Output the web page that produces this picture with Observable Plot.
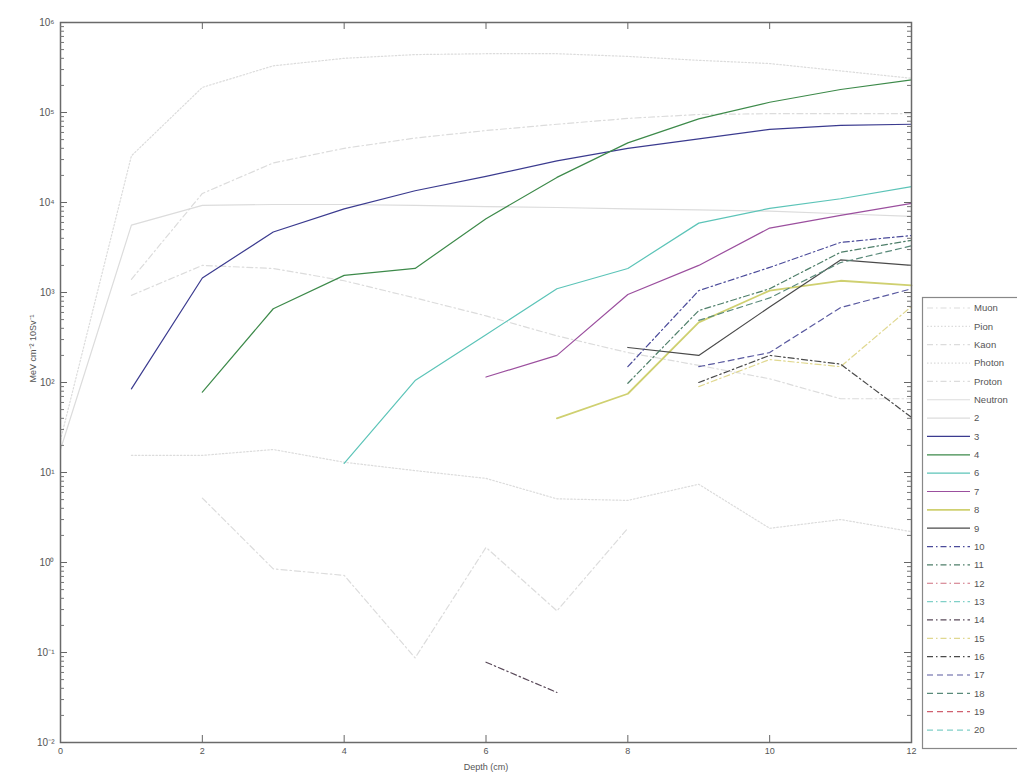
<!DOCTYPE html>
<html>
<head>
<meta charset="utf-8">
<script src="https://cdn.jsdelivr.net/npm/d3@7"></script>
<script src="https://cdn.jsdelivr.net/npm/@observablehq/plot@0.6"></script>
<style>
  html, body { margin: 0; padding: 0; background: white; }
</style>
</head>
<body>
<div id="chart"></div>
<script>
// ---- data ----
const depth = [0, 1, 2, 3, 4, 5, 6, 7, 8, 9, 10, 11, 12];
const xTicks = [0, 2, 4, 6, 8, 10, 12];
const yTicks = [1e-2, 1e-1, 1e0, 1e1, 1e2, 1e3, 1e4, 1e5, 1e6];
const _ = null;
const muon    = [_, _, 5.2, 0.85, 0.72, 0.087, 1.47, 0.29, 2.4, _, _, _, _];
const pion    = [_, 15.5, 15.5, 18, 13, 10.5, 8.6, 5.1, 4.9, 7.4, 2.4, 3.0, 2.2];
const kaon    = [_, 930, 2000, 1850, 1350, 870, 550, 330, 215, 155, 110, 66, 66];
const photon  = [23, 33000, 190000, 330000, 400000, 440000, 450000, 450000, 420000, 380000, 350000, 290000, 240000];
const proton  = [_, 1400, 12600, 27500, 40000, 52000, 63000, 74000, 86000, 95000, 97000, 97000, 97000];
const neutron = [18, 5600, 9300, 9500, 9500, 9300, 9000, 8800, 8500, 8300, 8000, 7500, 7000];
const s2  = [_, _, _, _, _, _, _, _, _, _, _, _, _];
const s3  = [_, 85, 1450, 4700, 8500, 13500, 19500, 29000, 40000, 51000, 65000, 72000, 74000];
const s4  = [_, _, 78, 660, 1550, 1850, 6600, 19000, 46000, 85000, 130000, 180000, 230000];
const s6  = [_, _, _, _, 12.6, 105, 340, 1100, 1850, 5900, 8600, 11000, 15000];
const s7  = [_, _, _, _, _, _, 115, 200, 950, 2000, 5200, 7200, 9800];
const s8  = [_, _, _, _, _, _, _, 40, 75, 465, 1050, 1350, 1200];
const s9  = [_, _, _, _, _, _, _, _, 245, 200, 690, 2300, 2000];
const s10 = [_, _, _, _, _, _, _, _, 150, 1050, 1900, 3600, 4300];
const s11 = [_, _, _, _, _, _, _, _, 98, 630, 1100, 2800, 3800];
const s12 = [_, _, _, _, _, _, _, _, _, _, _, _, _];
const s13 = [_, _, _, _, _, _, _, _, _, _, _, _, _];
const s14 = [_, _, _, _, _, _, 0.078, 0.036, _, _, _, _, _];
const s15 = [_, _, _, _, _, _, _, _, _, 90, 180, 150, 700];
const s16 = [_, _, _, _, _, _, _, _, _, 100, 200, 160, 41];
const s17 = [_, _, _, _, _, _, _, _, _, 150, 215, 680, 1100];
const s18 = [_, _, _, _, _, _, _, _, _, 490, 870, 2150, 3300];
const s19 = [_, _, _, _, _, _, _, _, _, _, _, _, _];
const s20 = [_, _, _, _, _, _, _, _, _, _, _, _, _];
const seriesNames = ["Muon","Pion","Kaon","Photon","Proton","Neutron","2","3","4","6","7","8","9","10","11","12","13","14","15","16","17","18","19","20"];
const seriesValues = [muon,pion,kaon,photon,proton,neutron,s2,s3,s4,s6,s7,s8,s9,s10,s11,s12,s13,s14,s15,s16,s17,s18,s19,s20];

// ---- styles ----
const DOT = "1.5,2", DASHDOT = "6,3,1.5,3", DASH = "6,4";
const LG = "#dcdcdc";
const styles = {
  "Muon": [LG, DASHDOT], "Pion": [LG, DOT], "Kaon": [LG, DASHDOT], "Photon": [LG, DOT],
  "Proton": [LG, DASHDOT], "Neutron": [LG, null], "2": [LG, null],
  "3": ["#3b3b8f", null], "4": ["#3d8a4a", null], "6": ["#5cc4b8", null], "7": ["#9b4f9e", null],
  "8": ["#cfd070", null], "9": ["#4a4a4a", null],
  "10": ["#4b4b9a", DASHDOT], "11": ["#4f7f6a", DASHDOT], "12": ["#d07080", DASHDOT], "13": ["#80d0c8", DASHDOT],
  "14": ["#5a4a5a", DASHDOT], "15": ["#e0d890", DASHDOT], "16": ["#4a4a4a", DASHDOT],
  "17": ["#5a5aa0", DASH], "18": ["#5a8a7a", DASH], "19": ["#d06070", DASH], "20": ["#80d0c8", DASH]
};
const widths = {"8": 1.8};

const sup = n => String(n).split("").map(c => c === "-" ? "⁻" : "⁰¹²³⁴⁵⁶⁷⁸⁹"[+c]).join("");

const lineMarks = seriesNames.map((name, i) => {
  const rows = depth.map((x, j) => ({x, y: seriesValues[i][j]})).filter(d => d.y != null);
  const [stroke, dash] = styles[name];
  return Plot.line(rows, {x: "x", y: "y", stroke, strokeWidth: widths[name] || 1.2, strokeDasharray: dash || undefined});
});

// minor ticks for log axis
const minor = [];
for (let k = -2; k < 6; k++) for (let m = 2; m <= 9; m++) minor.push(m * Math.pow(10, k));
const tx = 12 / 851; // data units per pixel in x
const tyUp = p => Math.pow(10, p / 90);

const chart = Plot.plot({
  width: 1017, height: 777,
  marginLeft: 60, marginRight: 106, marginTop: 22, marginBottom: 35,
  style: {fontFamily: "'Liberation Sans', Arial, sans-serif", fontSize: "9px", color: "#555", background: "white"},
  x: {domain: [0, 12]},
  y: {type: "log", domain: [1e-2, 1e6]},
  marks: [
    ...lineMarks,
    Plot.frame({stroke: "#6a6a6a", strokeWidth: 1.5}),
    Plot.ruleY(yTicks, {y: d => d, x1: 0, x2: 7 * tx, stroke: "#666"}),
    Plot.ruleY(yTicks, {y: d => d, x1: 12 - 7 * tx, x2: 12, stroke: "#666"}),
    Plot.ruleY(minor, {y: d => d, x1: 0, x2: 4 * tx, stroke: "#777"}),
    Plot.ruleY(minor, {y: d => d, x1: 12 - 4 * tx, x2: 12, stroke: "#777"}),
    Plot.ruleX(xTicks.slice(1, -1), {x: d => d, y1: 1e-2, y2: 1e-2 * tyUp(7), stroke: "#666"}),
    Plot.ruleX(xTicks.slice(1, -1), {x: d => d, y1: 1e6 / tyUp(7), y2: 1e6, stroke: "#666"}),
    Plot.axisX({ticks: xTicks, tickSize: 0, tickPadding: 5, label: null, tickFormat: d => String(d)}),
    Plot.axisY({ticks: yTicks, tickSize: 0, tickPadding: 6, label: null, fontSize: 10, tickFormat: d => "10" + sup(Math.round(Math.log10(d)))}),
    Plot.text(["MeV cm⁻² 10Sv⁻¹"], {frameAnchor: "left", dx: -27, rotate: -90, text: d => d, fill: "#555", fontSize: 9}),
    Plot.text(["Depth (cm)"], {frameAnchor: "bottom", dy: 27, text: d => d, fill: "#555", fontSize: 9})
  ]
});

// legend (drawn into the same SVG)
const svg = d3.select(chart);
const lg = svg.append("g").attr("text-anchor", "start");
lg.append("rect").attr("x", 922.5).attr("y", 297.5).attr("width", 110).attr("height", 451)
  .attr("fill", "white").attr("stroke", "#888").attr("stroke-width", 1.2);
seriesNames.forEach((name, i) => {
  const y = 308 + i * 18.35;
  const [stroke, dash] = styles[name];
  lg.append("line").attr("x1", 927).attr("x2", 970).attr("y1", y).attr("y2", y)
    .attr("stroke", stroke).attr("stroke-width", widths[name] || 1.2).attr("stroke-dasharray", dash || null);
  lg.append("text").attr("x", 974).attr("y", y).attr("dy", "0.35em").attr("text-anchor", "start")
    .attr("fill", "#555").attr("font-size", 9.5).text(name);
});

document.getElementById("chart").appendChild(chart);
</script>
</body>
</html>
